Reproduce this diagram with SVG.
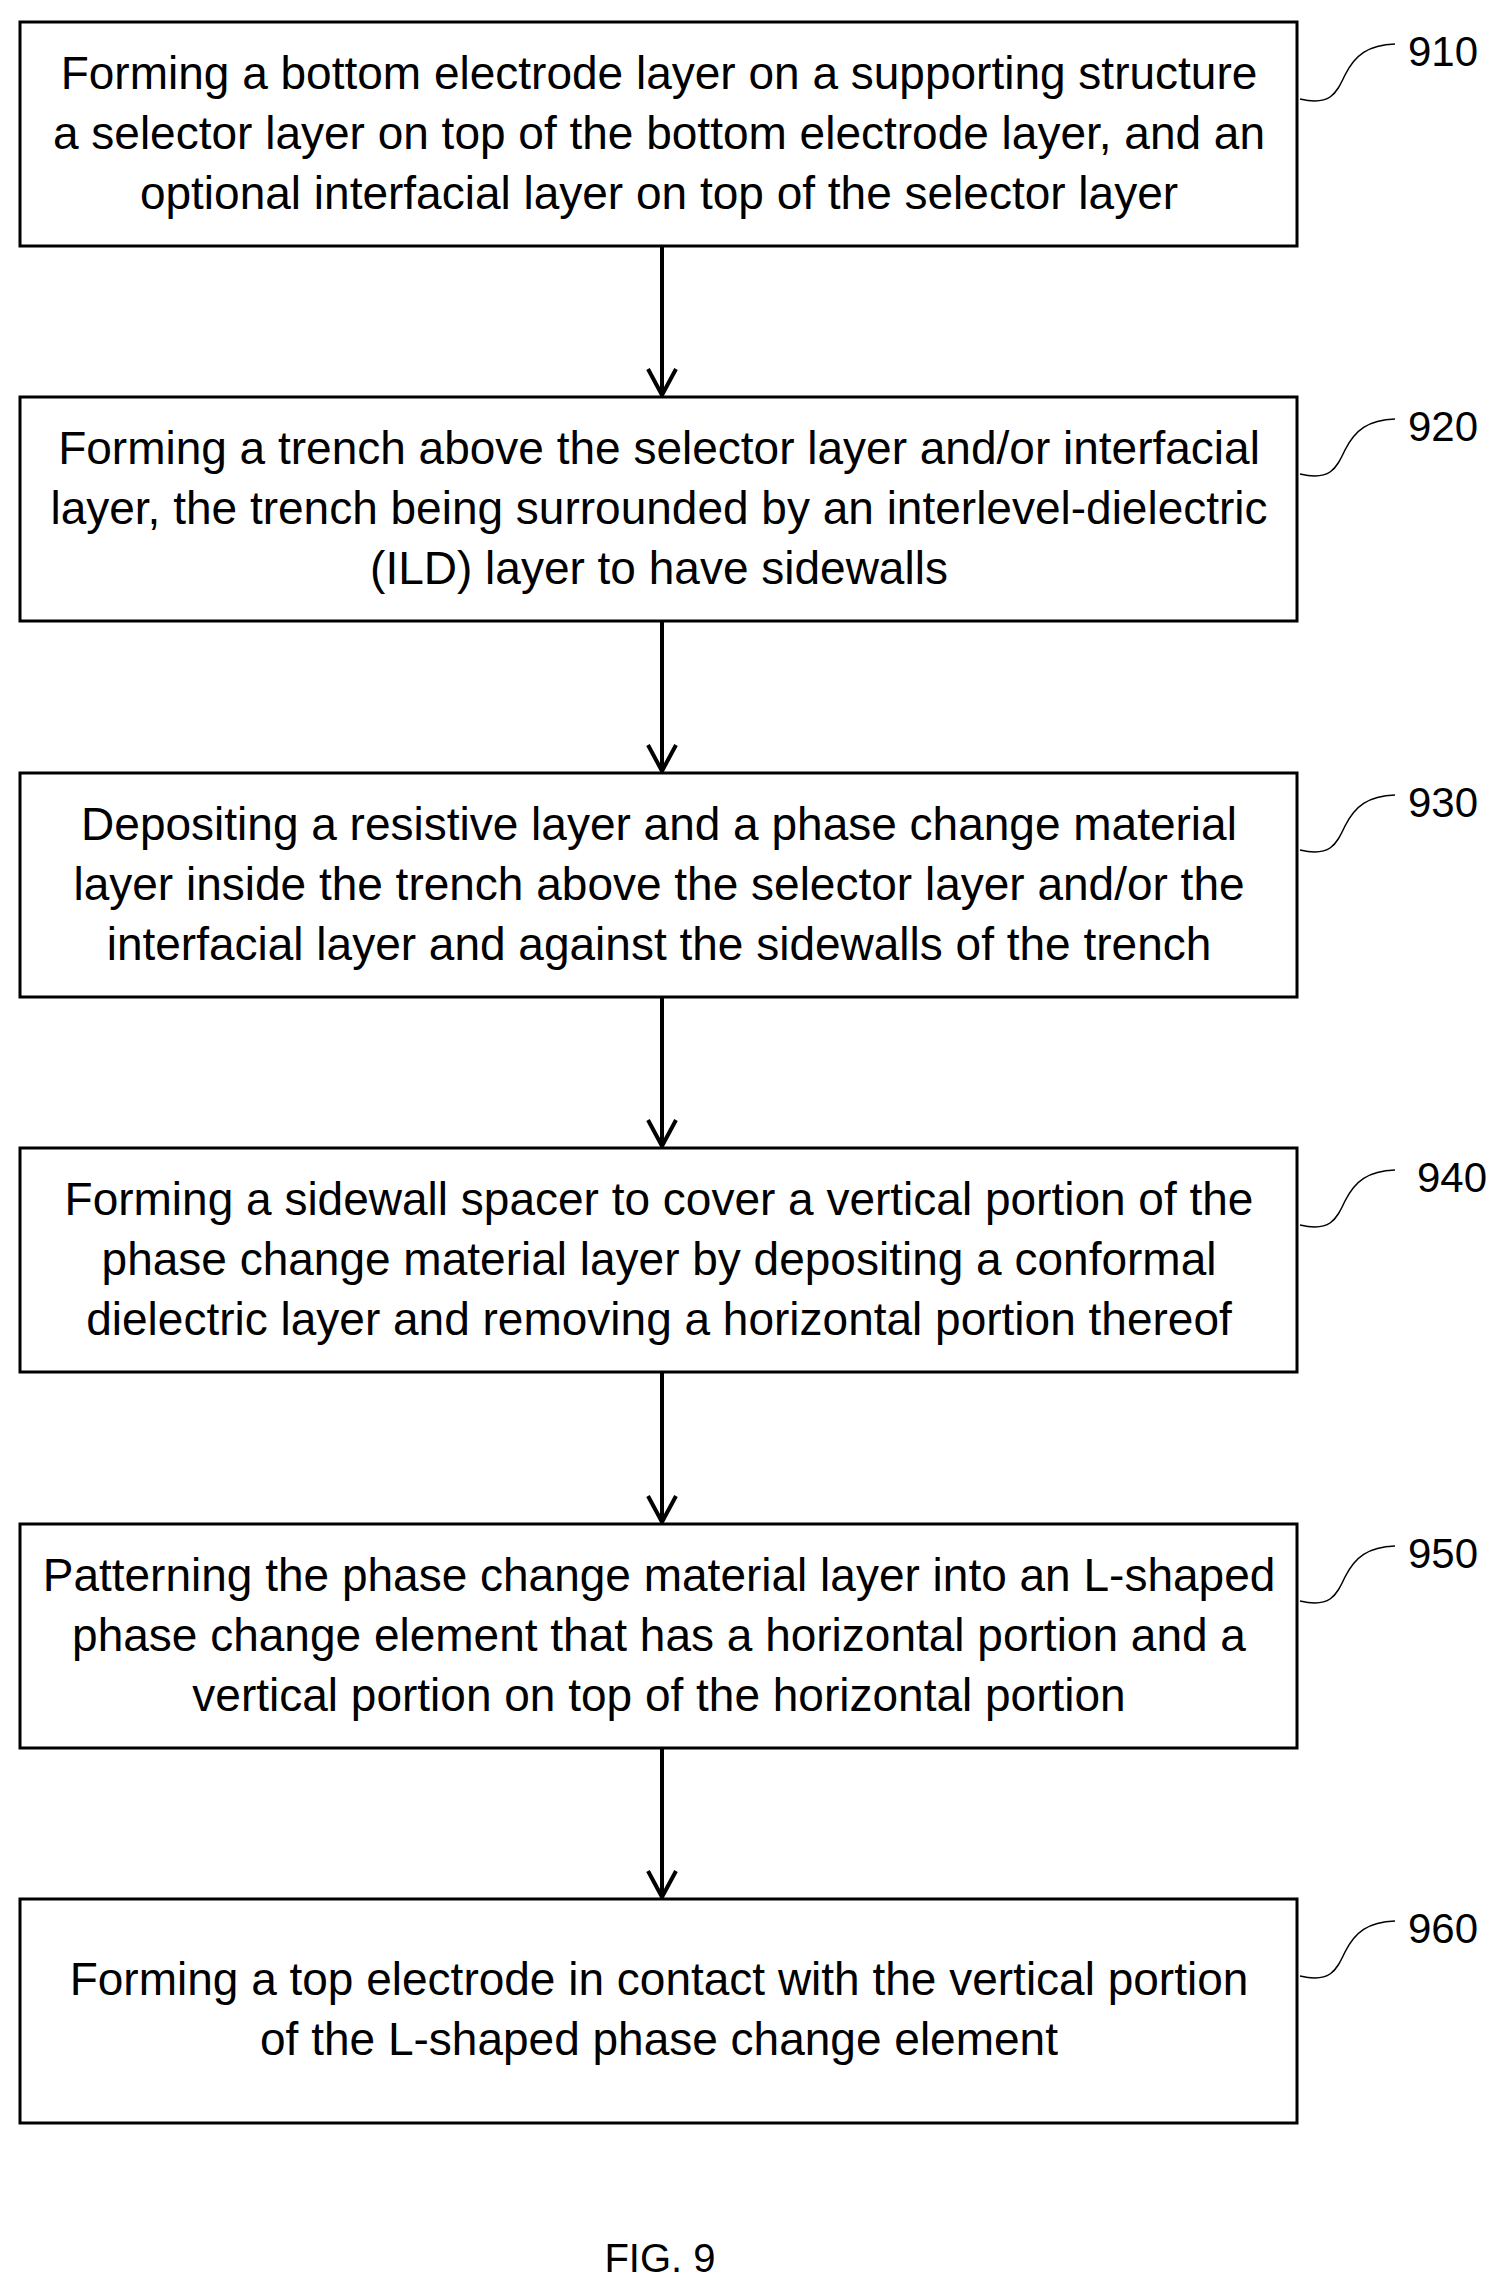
<svg xmlns="http://www.w3.org/2000/svg" width="1511" height="2289" viewBox="0 0 1511 2289">
<defs>
<style>
.box{fill:#fff;stroke:#000;stroke-width:3}
.t{font-family:"Liberation Sans",Arial,sans-serif;font-size:46px;text-anchor:middle;fill:#000}
.lbl{font-family:"Liberation Sans",Arial,sans-serif;font-size:42px;fill:#000}
.c{fill:none;stroke:#000;stroke-width:4}
.sq{fill:none;stroke:#000;stroke-width:1.5}
</style>
</defs>
<rect width="1511" height="2289" fill="#fff"/>
<g id="connectors">
<line class="c" x1="662" y1="246" x2="662" y2="395"/>
<line class="c" x1="662" y1="621" x2="662" y2="771"/>
<line class="c" x1="662" y1="997" x2="662" y2="1146"/>
<line class="c" x1="662" y1="1372" x2="662" y2="1522"/>
<line class="c" x1="662" y1="1748" x2="662" y2="1897"/>
<path d="M648,369 L662,395 L676,369" class="c"/>
<path d="M648,745 L662,771 L676,745" class="c"/>
<path d="M648,1120 L662,1146 L676,1120" class="c"/>
<path d="M648,1496 L662,1522 L676,1496" class="c"/>
<path d="M648,1871 L662,1897 L676,1871" class="c"/>
</g>
<g id="n910">
<rect class="box" x="20" y="22" width="1277" height="224"/>
<text class="t" x="659" y="89">Forming a bottom electrode layer on a supporting structure</text>
<text class="t" x="659" y="149">a selector layer on top of the bottom electrode layer, and an</text>
<text class="t" x="659" y="209">optional interfacial layer on top of the selector layer</text>
<path class="sq" d="M1300,99 C1330,106 1336,94 1345,75 C1355,55 1368,45 1395,44"/>
<text class="lbl" x="1408" y="66">910</text>
</g>
<g id="n920">
<rect class="box" x="20" y="397" width="1277" height="224"/>
<text class="t" x="659" y="464">Forming a trench above the selector layer and/or interfacial</text>
<text class="t" x="659" y="524">layer, the trench being surrounded by an interlevel-dielectric</text>
<text class="t" x="659" y="584">(ILD) layer to have  sidewalls</text>
<path class="sq" d="M1300,474 C1330,481 1336,469 1345,450 C1355,430 1368,420 1395,419"/>
<text class="lbl" x="1408" y="441">920</text>
</g>
<g id="n930">
<rect class="box" x="20" y="773" width="1277" height="224"/>
<text class="t" x="659" y="840">Depositing a resistive layer and a phase change material</text>
<text class="t" x="659" y="900">layer inside the trench above the selector layer and/or the</text>
<text class="t" x="659" y="960">interfacial layer and against the sidewalls of the trench</text>
<path class="sq" d="M1300,850 C1330,857 1336,845 1345,826 C1355,806 1368,796 1395,795"/>
<text class="lbl" x="1408" y="817">930</text>
</g>
<g id="n940">
<rect class="box" x="20" y="1148" width="1277" height="224"/>
<text class="t" x="659" y="1215">Forming a sidewall spacer to cover a vertical portion of the</text>
<text class="t" x="659" y="1275">phase change material layer by depositing a conformal</text>
<text class="t" x="659" y="1335">dielectric layer and removing a horizontal portion thereof</text>
<path class="sq" d="M1300,1225 C1330,1232 1336,1220 1345,1201 C1355,1181 1368,1171 1395,1170"/>
<text class="lbl" x="1417" y="1192">940</text>
</g>
<g id="n950">
<rect class="box" x="20" y="1524" width="1277" height="224"/>
<text class="t" x="659" y="1591">Patterning the phase change material layer into an L-shaped</text>
<text class="t" x="659" y="1651">phase change element that has a horizontal portion and a</text>
<text class="t" x="659" y="1711">vertical portion on top of the horizontal portion</text>
<path class="sq" d="M1300,1601 C1330,1608 1336,1596 1345,1577 C1355,1557 1368,1547 1395,1546"/>
<text class="lbl" x="1408" y="1568">950</text>
</g>
<g id="n960">
<rect class="box" x="20" y="1899" width="1277" height="224"/>
<text class="t" x="659" y="1995">Forming a top electrode in contact with the vertical portion</text>
<text class="t" x="659" y="2055">of the L-shaped phase change element</text>
<path class="sq" d="M1300,1976 C1330,1983 1336,1971 1345,1952 C1355,1932 1368,1922 1395,1921"/>
<text class="lbl" x="1408" y="1943">960</text>
</g>
<text class="t" x="660" y="2272" style="font-size:40px">FIG. 9</text>
</svg>
